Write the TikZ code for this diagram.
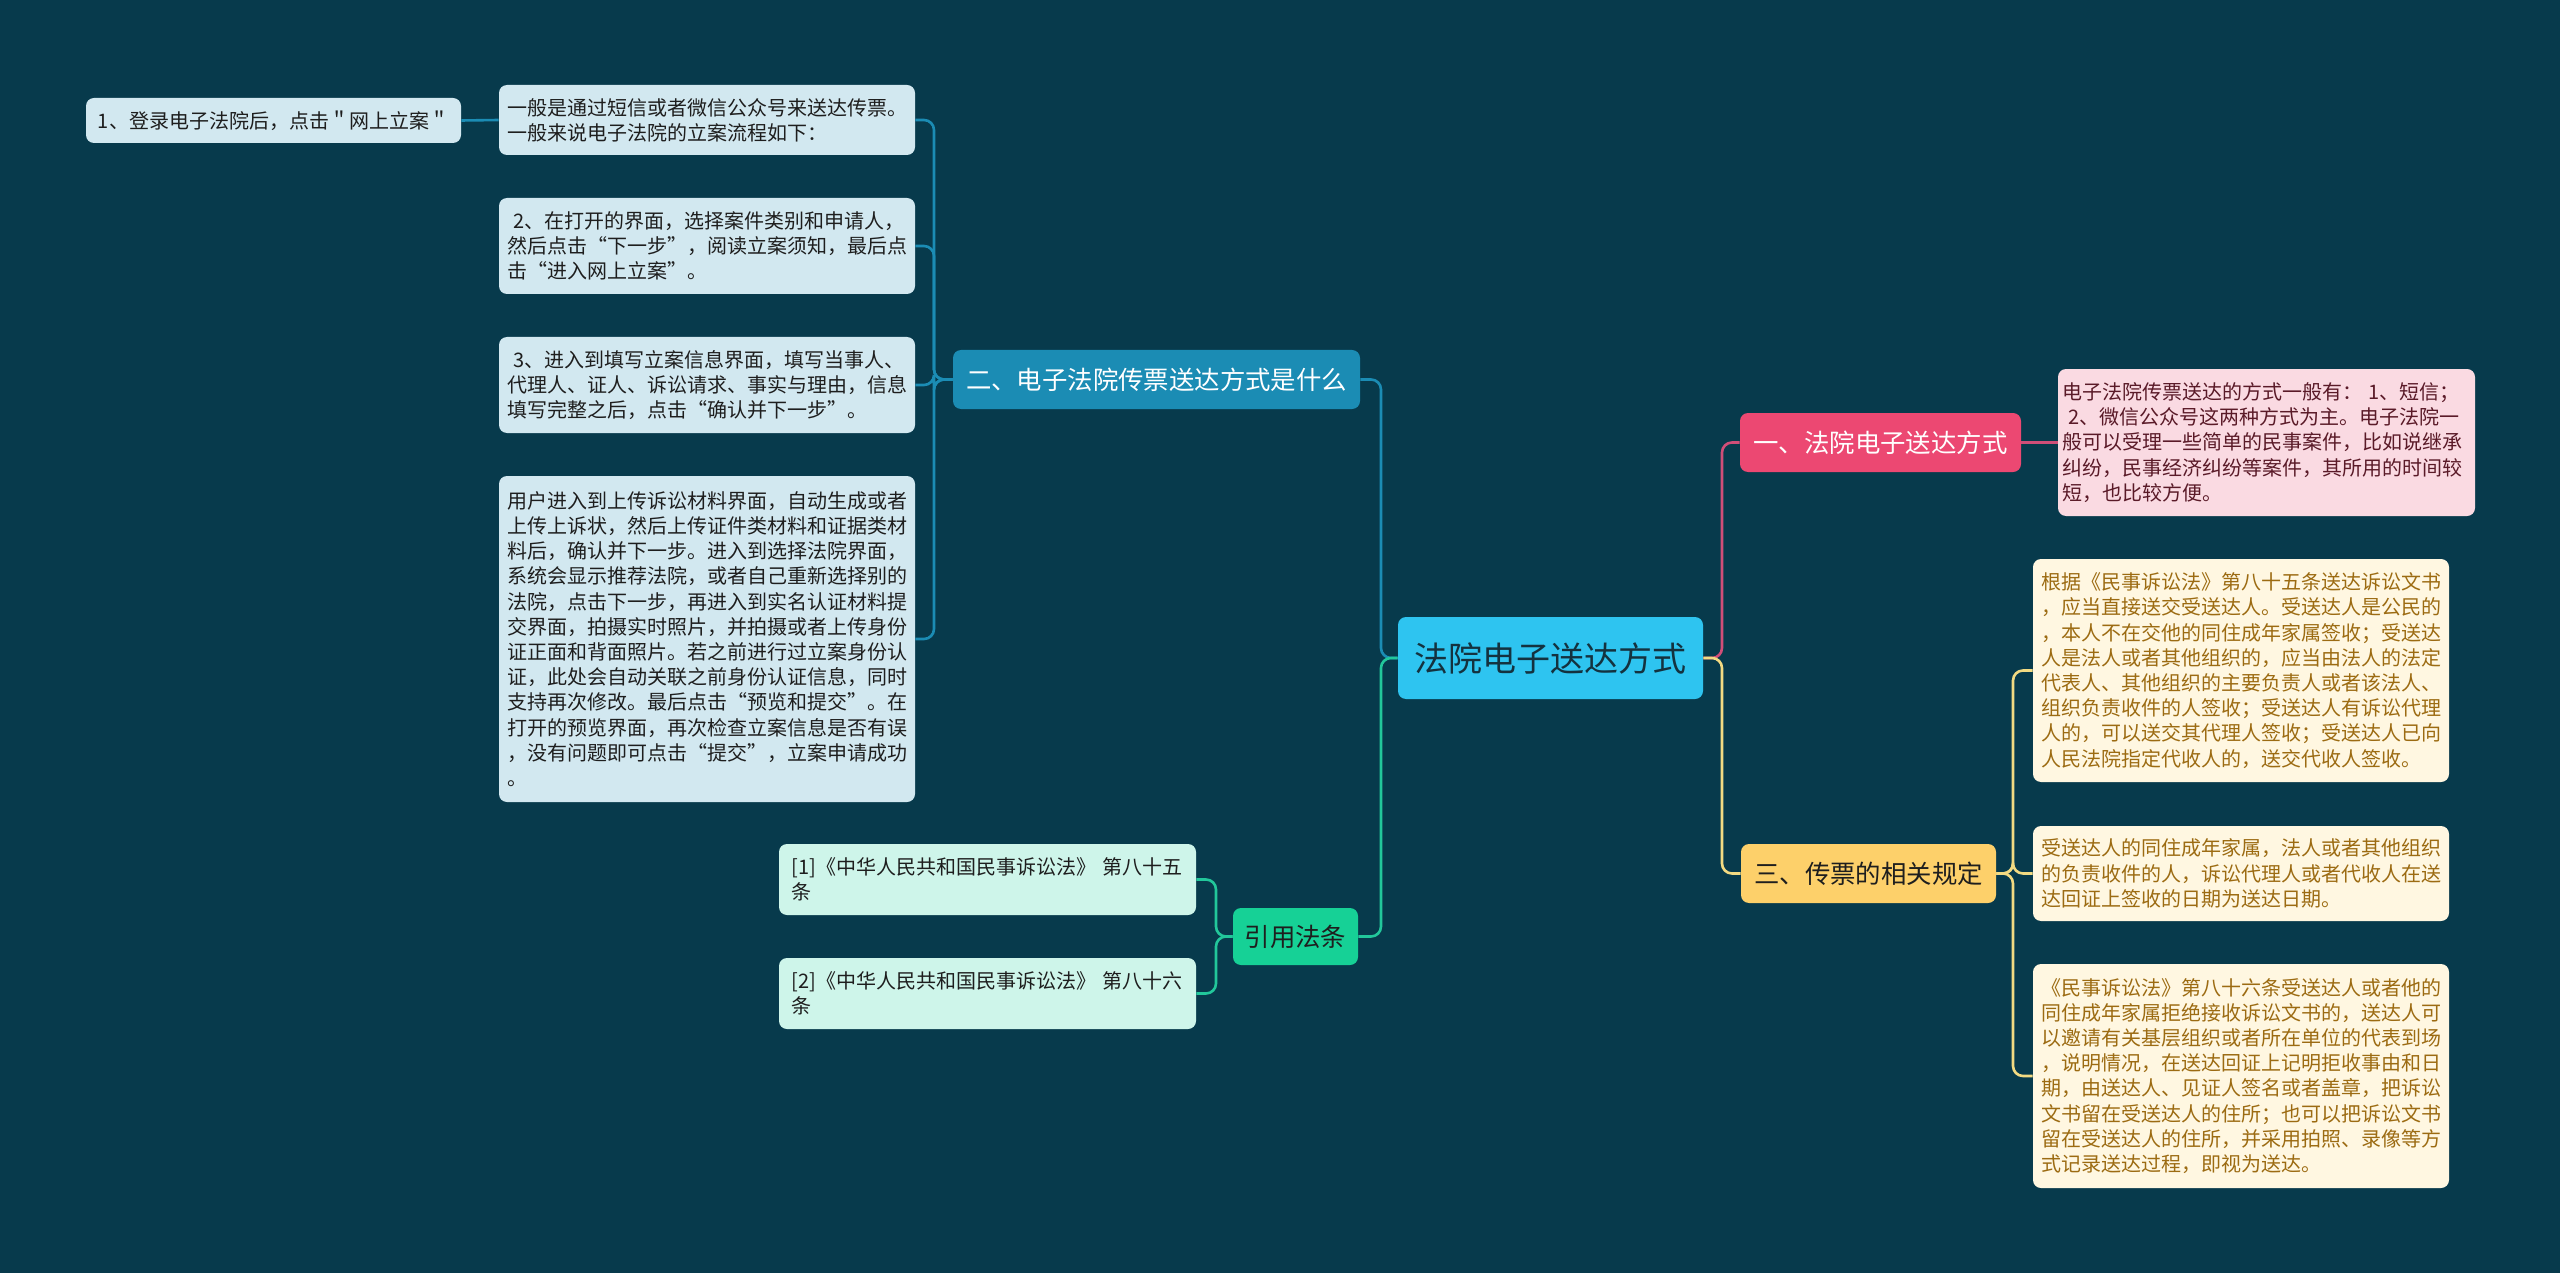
\documentclass[tikz,border=0pt]{standalone}
\usepackage{fontspec}
\setmainfont{Noto Sans CJK SC}
\usepackage{xcolor}
\definecolor{bg}{HTML}{073A4C}
\definecolor{rootfill}{HTML}{2EC4F0}
\definecolor{rootink}{HTML}{14323F}
\definecolor{blueln}{HTML}{1B8CB4}
\definecolor{bluesoft}{HTML}{D2E8F0}
\definecolor{greenfill}{HTML}{16D196}
\definecolor{greenln}{HTML}{22C79B}
\definecolor{greensoft}{HTML}{CEF5EA}
\definecolor{pinkfill}{HTML}{EC4872}
\definecolor{pinkln}{HTML}{D04E78}
\definecolor{pinksoft}{HTML}{FADAE2}
\definecolor{pinkink}{HTML}{5A1A28}
\definecolor{yelfill}{HTML}{FDD06A}
\definecolor{yelln}{HTML}{F2DA82}
\definecolor{yelsoft}{HTML}{FFF7E1}
\definecolor{yelink}{HTML}{9C6B12}
\definecolor{ink}{HTML}{1E1E1E}
\usepackage{tikz}

\begin{document}
\begin{tikzpicture}[x=0.5pt,y=-0.5pt,
  hub/.style={fill=rootfill,text=rootink,rounded corners=4pt,inner sep=0pt,
    minimum width=152.5pt,minimum height=41pt,font=\fontsize{17}{20}\selectfont},
  topic/.style={rounded corners=4pt,inner sep=0pt,minimum height=29.5pt,
    font=\fontsize{12.7}{15}\selectfont},
  leaf/.style={rounded corners=4pt,inner sep=2pt,text width=200pt,align=left,
    minimum width=208pt,font=\fontsize{10}{12.6}\selectfont},
  lnk/.style={line width=1.3pt,rounded corners=5pt}]
\fill[bg] (0,0) rectangle (2560,1273);
\useasboundingbox (0,0) rectangle (2560,1273);

% centre and main branches
\node[hub] (root) at (1550.5,658) {法院电子送达方式};
\node[topic,fill=blueln,text=white,minimum width=203.5pt] (b2) at (1156.5,379.5) {二、电子法院传票送达方式是什么};
\node[topic,fill=greenfill,text=ink,minimum width=62.5pt,minimum height=28.5pt] (cite) at (1295.5,936.5) {引用法条};
\node[topic,fill=pinkfill,text=white,minimum width=140.5pt] (b1) at (1880.5,442.5) {一、法院电子送达方式};
\node[topic,fill=yelfill,text=ink,minimum width=127.5pt] (b3) at (1868.5,873.5) {三、传票的相关规定};

% left leaves
\node[leaf,fill=bluesoft,text=ink,text width=182pt,align=center,minimum width=187.5pt,minimum height=22.5pt] (s1) at (273.5,120.5) {1、登录电子法院后，点击＂网上立案＂};
\node[leaf,fill=bluesoft,text=ink,minimum height=35pt] (s0) at (707,120) {一般是通过短信或者微信公众号来送达传票。\\一般来说电子法院的立案流程如下：};
\node[leaf,fill=bluesoft,text=ink,minimum height=48pt] (s2) at (707,246) {\hspace*{0.3em}2、在打开的界面，选择案件类别和申请人，\\然后点击“下一步”，阅读立案须知，最后点\\击“进入网上立案”。};
\node[leaf,fill=bluesoft,text=ink,minimum height=48pt] (s3) at (707,385) {\hspace*{0.3em}3、进入到填写立案信息界面，填写当事人、\\代理人、证人、诉讼请求、事实与理由，信息\\填写完整之后，点击“确认并下一步”。};
\node[leaf,fill=bluesoft,text=ink,minimum height=163pt] (s4) at (707,639) {用户进入到上传诉讼材料界面，自动生成或者\\上传上诉状，然后上传证件类材料和证据类材\\料后，确认并下一步。进入到选择法院界面，\\系统会显示推荐法院，或者自己重新选择别的\\法院，点击下一步，再进入到实名认证材料提\\交界面，拍摄实时照片，并拍摄或者上传身份\\证正面和背面照片。若之前进行过立案身份认\\证，此处会自动关联之前身份认证信息，同时\\支持再次修改。最后点击“预览和提交”。在\\打开的预览界面，再次检查立案信息是否有误\\，没有问题即可点击“提交”，立案申请成功\\。};
\node[leaf,fill=greensoft,text=ink,text width=196pt,minimum width=208.5pt,minimum height=35.5pt] (r1) at (987.5,879.5) {[1]《中华人民共和国民事诉讼法》~第八十五\\条};
\node[leaf,fill=greensoft,text=ink,text width=196pt,minimum width=208.5pt,minimum height=35.5pt] (r2) at (987.5,993.5) {[2]《中华人民共和国民事诉讼法》~第八十六\\条};

% right leaves
\node[leaf,fill=pinksoft,text=pinkink,text width=204pt,minimum width=208.5pt,minimum height=73.5pt] (p1) at (2266.5,442.5) {电子法院传票送达的方式一般有：\hspace*{3pt}1、短信；\\\hspace*{3pt}2、微信公众号这两种方式为主。电子法院一\\般可以受理一些简单的民事案件，比如说继承\\纠纷，民事经济纠纷等案件，其所用的时间较\\短，也比较方便。};
\node[leaf,fill=yelsoft,text=yelink,minimum height=111.5pt] (c1) at (2241,670.5) {根据《民事诉讼法》第八十五条送达诉讼文书\\，应当直接送交受送达人。受送达人是公民的\\，本人不在交他的同住成年家属签收；受送达\\人是法人或者其他组织的，应当由法人的法定\\代表人、其他组织的主要负责人或者该法人、\\组织负责收件的人签收；受送达人有诉讼代理\\人的，可以送交其代理人签收；受送达人已向\\人民法院指定代收人的，送交代收人签收。};
\node[leaf,fill=yelsoft,text=yelink,minimum height=47.5pt] (c2) at (2241,873.5) {受送达人的同住成年家属，法人或者其他组织\\的负责收件的人，诉讼代理人或者代收人在送\\达回证上签收的日期为送达日期。};
\node[leaf,fill=yelsoft,text=yelink,minimum height=112pt] (c3) at (2241,1076) {《民事诉讼法》第八十六条受送达人或者他的\\同住成年家属拒绝接收诉讼文书的，送达人可\\以邀请有关基层组织或者所在单位的代表到场\\，说明情况，在送达回证上记明拒收事由和日\\期，由送达人、见证人签名或者盖章，把诉讼\\文书留在受送达人的住所；也可以把诉讼文书\\留在受送达人的住所，并采用拍照、录像等方\\式记录送达过程，即视为送达。};

% joints
\coordinate (jl) at (1381,658);
\coordinate (jr) at (1722,658);
\coordinate (jb) at (934,379.5);
\coordinate (jc) at (1216,936.5);
\coordinate (jy) at (2013,873.5);

% connectors
\draw[lnk,blueln] (root.west) -- (jl) |- (b2.east);
\draw[lnk,greenln] (root.west) -- (jl) |- (cite.east);
\draw[lnk,pinkln] (root.east) -- (jr) |- (b1.west);
\draw[lnk,yelln] (root.east) -- (jr) |- (b3.west);
\foreach \k in {s0,s2,s3,s4}
  \draw[lnk,blueln] (b2.west) -- (jb) |- (\k.east);
\draw[lnk,blueln] (s0.west) -- (s1.east);
\foreach \k in {r1,r2}
  \draw[lnk,greenln] (cite.west) -- (jc) |- (\k.east);
\draw[lnk,pinkln] (b1.east) -- (p1.west);
\foreach \k in {c1,c2,c3}
  \draw[lnk,yelln] (b3.east) -- (jy) |- (\k.west);
\end{tikzpicture}
\end{document}
